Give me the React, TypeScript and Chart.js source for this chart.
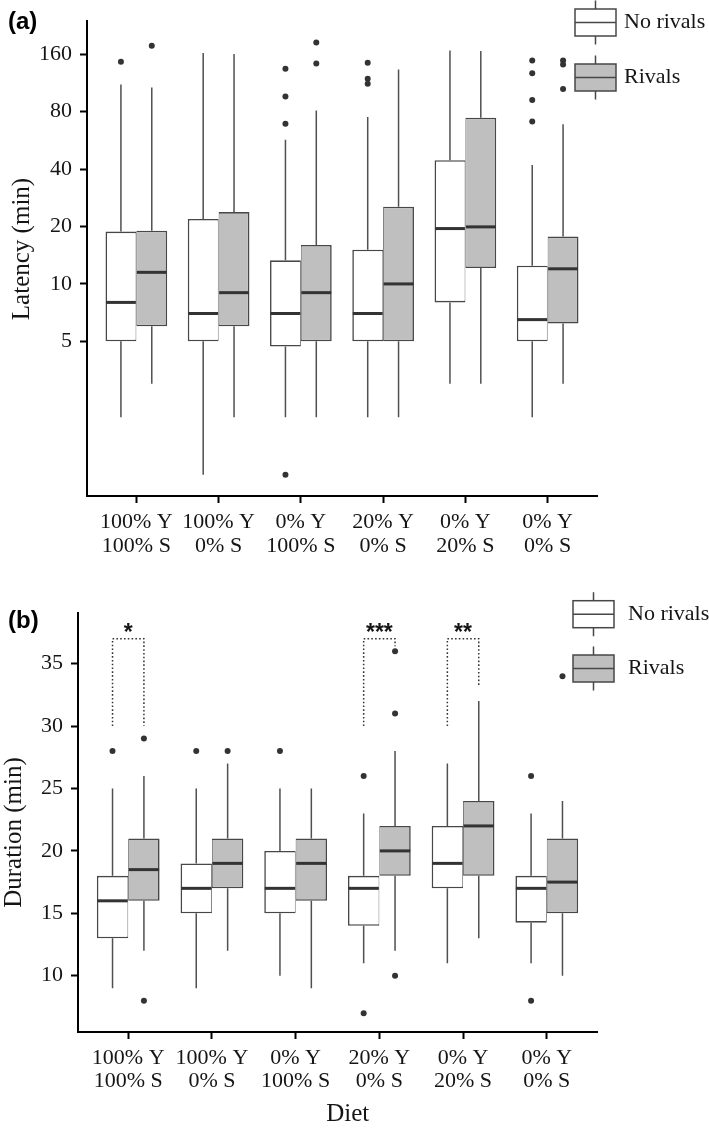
import React, { useEffect, useRef } from 'react';
import { Chart, registerables } from 'chart.js';

Chart.register(...registerables);

// ---------- data ----------
const categories: string[][] = [
  ['100% Y', '100% S'],
  ['100% Y', '0% S'],
  ['0% Y', '100% S'],
  ['20% Y', '0% S'],
  ['0% Y', '20% S'],
  ['0% Y', '0% S'],
];
const seriesNames = ['No rivals', 'Rivals'];

// Panel (a) latency (min), log scale
const latTicks = [5, 10, 20, 40, 80, 160];
const latNoQ1 = [5, 5, 4.7, 5, 8, 5];
const latNoMed = [8, 7, 7, 7, 19.5, 6.5];
const latNoQ3 = [18.8, 21.9, 13.3, 15.1, 44.5, 12.45];
const latNoLo = [2, 1, 2, 2, 3, 2];
const latNoHi = [111, 162, 57, 75, 167, 42];
const latNoOut = [[146], [], [134, 96, 69, 1], [144, 119, 112], [], [148, 127, 92, 71]];
const latRvQ1 = [6, 6, 5, 5, 12.1, 6.2];
const latRvMed = [11.5, 9, 9, 10, 19.9, 12];
const latRvQ3 = [19, 23.8, 16, 25.4, 74.3, 17.7];
const latRvLo = [3, 2, 2, 2, 3, 3];
const latRvHi = [107, 160, 81, 133, 166, 68.6];
const latRvOut = [[177], [], [184, 143], [], [], [148, 141, 105]];

// Panel (b) duration (min)
const durTicks = [10, 15, 20, 25, 30, 35];
const durNoQ1 = [13, 15, 15, 14, 17, 14.25];
const durNoMed = [16, 17, 17, 17, 19, 17];
const durNoQ3 = [18, 19, 20, 18, 22, 18];
const durNoLo = [9, 9, 10, 11, 11, 11];
const durNoHi = [25, 25, 25, 23, 27, 23];
const durNoOut = [[28], [28], [28], [26, 7], [], [26, 8]];
const durRvQ1 = [16, 17, 16, 18, 18, 15];
const durRvMed = [18.5, 19, 19, 20, 22, 17.5];
const durRvQ3 = [21, 21, 21, 22, 24, 21];
const durRvLo = [12, 12, 9, 12, 13, 10];
const durRvHi = [26, 27, 25, 28, 32, 24];
const durRvOut = [[29, 8], [28], [], [36, 31, 10], [], [34]];

// significance brackets (panel b)
const sigIndex = [0, 3, 4];
const sigLabels = ['*', '***', '**'];
const sigTop = [37, 37, 37];
const sigLeftEnd = [30, 30, 30];
const sigRightEnd = [30, 36.4, 33.2];

// ---------- styles ----------
const SERIF = '"Liberation Serif", "Times New Roman", serif';
const SANS = '"Liberation Sans", Arial, sans-serif';
const boxFills = ['#ffffff', '#bfbfbf'];
const OUTLINE = '#474747';
const WHISKER = '#505050';
const MEDIAN = '#333333';
const INK = '#151515';

type Spec = {
  q1: number[][];
  med: number[][];
  q3: number[][];
  lo: number[][];
  hi: number[][];
  out: number[][][];
};

function drawKey(ctx: CanvasRenderingContext2D, x: number, y: number, w: number, h: number, fill: string) {
  const cx = x + w / 2;
  ctx.save();
  ctx.strokeStyle = OUTLINE;
  ctx.lineWidth = 1.5;
  ctx.beginPath();
  ctx.moveTo(cx, y - 8.5);
  ctx.lineTo(cx, y);
  ctx.moveTo(cx, y + h);
  ctx.lineTo(cx, y + h + 8.5);
  ctx.stroke();
  ctx.fillStyle = fill;
  ctx.fillRect(x, y, w, h);
  ctx.strokeRect(x, y, w, h);
  ctx.beginPath();
  ctx.moveTo(x, y + h / 2);
  ctx.lineTo(x + w, y + h / 2);
  ctx.stroke();
  ctx.restore();
}

type Decor = {
  label: string;
  labelBaseline: number;
  yTitle: string;
  yTitleX: number;
  yTitleY: number;
  xTitle?: string;
  xTitleX?: number;
  xTitleY?: number;
  keyX: number;
  keyY: number;
  keyGap: number;
  textX: number;
  brackets?: boolean;
};

function makePlugin(spec: Spec, d: Decor) {
  return {
    id: 'boxExtras',
    beforeDatasetsDraw(chart: any) {
      const ctx: CanvasRenderingContext2D = chart.ctx;
      const ys = chart.scales.y;
      ctx.save();
      ctx.strokeStyle = WHISKER;
      ctx.lineWidth = 1.5;
      for (let g = 0; g < 2; g++) {
        const meta = chart.getDatasetMeta(g);
        meta.data.forEach((el: any, i: number) => {
          const x = el.x;
          ctx.beginPath();
          ctx.moveTo(x, ys.getPixelForValue(spec.q3[g][i]));
          ctx.lineTo(x, ys.getPixelForValue(spec.hi[g][i]));
          ctx.moveTo(x, ys.getPixelForValue(spec.q1[g][i]));
          ctx.lineTo(x, ys.getPixelForValue(spec.lo[g][i]));
          ctx.stroke();
        });
      }
      ctx.restore();
    },
    afterDatasetsDraw(chart: any) {
      const ctx: CanvasRenderingContext2D = chart.ctx;
      const ys = chart.scales.y;
      ctx.save();
      for (let g = 0; g < 2; g++) {
        const meta = chart.getDatasetMeta(g);
        meta.data.forEach((el: any, i: number) => {
          const y = ys.getPixelForValue(spec.med[g][i]);
          ctx.strokeStyle = MEDIAN;
          ctx.lineWidth = 3;
          ctx.beginPath();
          ctx.moveTo(el.x - el.width / 2 + 0.5, y);
          ctx.lineTo(el.x + el.width / 2 - 0.5, y);
          ctx.stroke();
          ctx.fillStyle = MEDIAN;
          spec.out[g][i].forEach((v) => {
            ctx.beginPath();
            ctx.arc(el.x, ys.getPixelForValue(v), 3, 0, Math.PI * 2);
            ctx.fill();
          });
        });
      }
      if (d.brackets) {
        const m0 = chart.getDatasetMeta(0);
        const m1 = chart.getDatasetMeta(1);
        ctx.strokeStyle = MEDIAN;
        ctx.lineWidth = 1.5;
        ctx.setLineDash([1.6, 2.2]);
        sigIndex.forEach((idx, k) => {
          const xl = m0.data[idx].x;
          const xr = m1.data[idx].x;
          const yt = ys.getPixelForValue(sigTop[k]);
          ctx.beginPath();
          ctx.moveTo(xl, ys.getPixelForValue(sigLeftEnd[k]));
          ctx.lineTo(xl, yt);
          ctx.lineTo(xr, yt);
          ctx.lineTo(xr, ys.getPixelForValue(sigRightEnd[k]));
          ctx.stroke();
        });
        ctx.setLineDash([]);
        ctx.fillStyle = INK;
        ctx.font = `bold 23px ${SANS}`;
        ctx.textAlign = 'center';
        ctx.textBaseline = 'alphabetic';
        sigIndex.forEach((idx, k) => {
          const xl = m0.data[idx].x;
          const xr = m1.data[idx].x;
          const yt = ys.getPixelForValue(sigTop[k]);
          ctx.fillText(sigLabels[k], (xl + xr) / 2, yt + 1);
        });
      }
      ctx.restore();
    },
    afterDraw(chart: any) {
      const ctx: CanvasRenderingContext2D = chart.ctx;
      ctx.save();
      // panel label
      ctx.fillStyle = '#000';
      ctx.font = `bold 24px ${SANS}`;
      ctx.textAlign = 'left';
      ctx.textBaseline = 'alphabetic';
      ctx.fillText(d.label, 8, d.labelBaseline);
      // y title
      ctx.font = `25px ${SERIF}`;
      ctx.fillStyle = INK;
      ctx.save();
      ctx.translate(d.yTitleX, d.yTitleY);
      ctx.rotate(-Math.PI / 2);
      ctx.textAlign = 'center';
      ctx.fillText(d.yTitle, 0, 0);
      ctx.restore();
      // x title
      if (d.xTitle) {
        ctx.textAlign = 'center';
        ctx.fillText(d.xTitle, d.xTitleX!, d.xTitleY!);
      }
      // legend
      seriesNames.forEach((name, g) => {
        const top = d.keyY + g * d.keyGap;
        drawKey(ctx, d.keyX, top, 41, 27, boxFills[g]);
        ctx.fillStyle = INK;
        ctx.font = `22px ${SERIF}`;
        ctx.textAlign = 'left';
        ctx.textBaseline = 'middle';
        ctx.fillText(name, d.textX, top + 13.5);
      });
      ctx.restore();
    },
  };
}

type PanelOpts = {
  spec: Spec;
  decor: Decor;
  yType: 'logarithmic' | 'linear';
  yMin: number;
  yMax: number;
  yTicks: number[];
  top: number;
  yWidth: number;
  xHeight: number;
  xPad: number;
};

function makeConfig(p: PanelOpts): any {
  const datasets = [0, 1].map((g) => ({
    type: 'bar',
    label: seriesNames[g],
    data: p.spec.q1[g].map((v, i) => ({ x: i + 1, y: [v, p.spec.q3[g][i]] })),
    backgroundColor: boxFills[g],
    borderColor: OUTLINE,
    borderWidth:
      g === 0
        ? { left: 1.6, right: 0.8, top: 1.6, bottom: 1.6 }
        : { left: 0.8, right: 1.6, top: 1.6, bottom: 1.6 },
    borderSkipped: false,
    categoryPercentage: 0.75,
    barPercentage: 1,
  }));
  const axisGrid = {
    display: true,
    drawOnChartArea: false,
    drawTicks: true,
    tickLength: 7,
    tickColor: '#000',
    tickWidth: 2,
    color: '#000',
    offset: false,
  };
  return {
    type: 'bar',
    data: { datasets },
    options: {
      responsive: false,
      animation: false,
      events: [],
      devicePixelRatio: 1,
      layout: { padding: { left: 0, right: 112, top: p.top, bottom: 0 } },
      plugins: {
        legend: { display: false },
        tooltip: { enabled: false },
        title: { display: false },
      },
      scales: {
        x: {
          type: 'linear',
          min: 0.4,
          max: 6.6,
          offset: false,
          bounds: 'data',
          afterBuildTicks: (s: any) => {
            s.ticks = categories.map((_, i) => ({ value: i + 1 }));
          },
          afterFit: (s: any) => {
            s.height = p.xHeight;
          },
          ticks: {
            autoSkip: false,
            maxRotation: 0,
            minRotation: 0,
            padding: p.xPad,
            color: INK,
            font: { family: SERIF, size: 22, lineHeight: 1.07 },
            callback: (v: any) => categories[Math.round(Number(v)) - 1] ?? '',
          },
          grid: axisGrid,
          border: { display: true, color: '#000', width: 2 },
        },
        y: {
          type: p.yType,
          min: p.yMin,
          max: p.yMax,
          bounds: 'data',
          afterBuildTicks: (s: any) => {
            s.ticks = p.yTicks.map((v) => ({ value: v }));
          },
          afterFit: (s: any) => {
            s.width = p.yWidth;
          },
          ticks: {
            padding: 8,
            color: INK,
            font: { family: SERIF, size: 22 },
            callback: (v: any) => String(v),
          },
          grid: axisGrid,
          border: { display: true, color: '#000', width: 2 },
        },
      },
    },
    plugins: [makePlugin(p.spec, p.decor)],
  };
}

const specA: Spec = {
  q1: [latNoQ1, latRvQ1],
  med: [latNoMed, latRvMed],
  q3: [latNoQ3, latRvQ3],
  lo: [latNoLo, latRvLo],
  hi: [latNoHi, latRvHi],
  out: [latNoOut, latRvOut],
};
const specB: Spec = {
  q1: [durNoQ1, durRvQ1],
  med: [durNoMed, durRvMed],
  q3: [durNoQ3, durRvQ3],
  lo: [durNoLo, durRvLo],
  hi: [durNoHi, durRvHi],
  out: [durNoOut, durRvOut],
};

export default function App() {
  const refA = useRef<HTMLCanvasElement>(null);
  const refB = useRef<HTMLCanvasElement>(null);

  useEffect(() => {
    const a = new Chart(
      refA.current!,
      makeConfig({
        spec: specA,
        yType: 'logarithmic',
        yMin: 0.774,
        yMax: 238,
        yTicks: latTicks,
        top: 20,
        yWidth: 87,
        xHeight: 60,
        xPad: 7.5,
        decor: {
          label: '(a)',
          labelBaseline: 29,
          yTitle: 'Latency (min)',
          yTitleX: 29,
          yTitleY: 249,
          keyX: 575,
          keyY: 9,
          keyGap: 55,
          textX: 624,
        },
      })
    );
    const b = new Chart(
      refB.current!,
      makeConfig({
        spec: specB,
        yType: 'linear',
        yMin: 5.49,
        yMax: 39.06,
        yTicks: durTicks,
        top: 57,
        yWidth: 78,
        xHeight: 97,
        xPad: 7,
        decor: {
          label: '(b)',
          labelBaseline: 72,
          yTitle: 'Duration (min)',
          yTitleX: 21,
          yTitleY: 276.5,
          xTitle: 'Diet',
          xTitleX: 347.7,
          xTitleY: 565,
          keyX: 573,
          keyY: 44.7,
          keyGap: 54.3,
          textX: 628,
          brackets: true,
        },
      })
    );
    return () => {
      a.destroy();
      b.destroy();
    };
  }, []);

  return (
    <div style={{ position: 'absolute', left: 0, top: 0, width: 709, height: 1129, background: '#ffffff' }}>
      <canvas
        ref={refA}
        width={709}
        height={556}
        style={{ position: 'absolute', left: 0, top: 0, width: 709, height: 556 }}
      />
      <canvas
        ref={refB}
        width={709}
        height={573}
        style={{ position: 'absolute', left: 0, top: 556, width: 709, height: 573 }}
      />
    </div>
  );
}
